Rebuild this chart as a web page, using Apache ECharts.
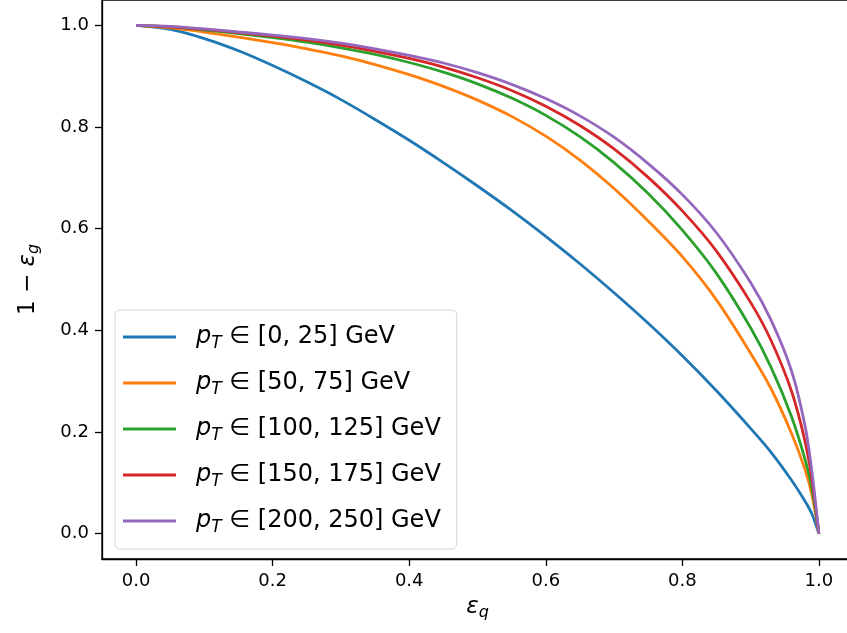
<!DOCTYPE html>
<html>
<head>
<meta charset="utf-8">
<script src="https://cdn.jsdelivr.net/npm/echarts@6/dist/echarts.min.js"></script>
<style>
  html, body { margin: 0; padding: 0; background: #fff; }
  #rocChart { width: 847px; height: 633px; }
</style>
</head>
<body>
<div id="rocChart"></div>
<script>
// quark efficiency (x) and 1 - gluon efficiency (y)
const effQ = [0, 0.05, 0.1, 0.15, 0.2, 0.25, 0.3, 0.35, 0.4, 0.45, 0.5, 0.55, 0.6,
  0.65, 0.7, 0.75, 0.8, 0.85, 0.9, 0.93, 0.96, 0.98, 0.99, 1.0];
const pt0_25 = [1.0, 0.992, 0.974, 0.95, 0.921, 0.889, 0.854, 0.815, 0.774, 0.73, 0.684, 0.636, 0.585,
  0.531, 0.474, 0.414, 0.35, 0.281, 0.207, 0.16, 0.105, 0.063, 0.038, 0.0];
const pt50_75 = [1.0, 0.995, 0.987, 0.977, 0.966, 0.954, 0.94, 0.923, 0.903, 0.88, 0.853, 0.821, 0.782,
  0.735, 0.679, 0.615, 0.545, 0.46, 0.355, 0.285, 0.197, 0.125, 0.075, 0.0];
const pt100_125 = [1.0, 0.997, 0.991, 0.984, 0.976, 0.967, 0.956, 0.943, 0.927, 0.908, 0.885, 0.857, 0.823,
  0.781, 0.73, 0.669, 0.597, 0.512, 0.405, 0.327, 0.23, 0.145, 0.088, 0.0];
const pt150_175 = [1.0, 0.997, 0.992, 0.986, 0.979, 0.971, 0.961, 0.949, 0.935, 0.918, 0.897, 0.872, 0.841,
  0.803, 0.757, 0.701, 0.635, 0.556, 0.455, 0.38, 0.28, 0.18, 0.105, 0.0];
const pt200_250 = [1.0, 0.998, 0.993, 0.987, 0.981, 0.974, 0.965, 0.954, 0.941, 0.926, 0.907, 0.884, 0.856,
  0.822, 0.78, 0.728, 0.667, 0.592, 0.494, 0.42, 0.32, 0.21, 0.12, 0.0];

const ptRanges = ["[0, 25]", "[50, 75]", "[100, 125]", "[150, 175]", "[200, 250]"];
const tickValues = [0, 0.2, 0.4, 0.6, 0.8, 1.0];

const lineColors = ["#1f77b4", "#ff7f0e", "#2ca02c", "#d62728", "#9467bd"];
const font = "DejaVu Sans";

let rocChart = echarts.init(document.getElementById("rocChart"));

let curves = [pt0_25, pt50_75, pt100_125, pt150_175, pt200_250];
let series = curves.map(function (vals, i) {
  return {
    name: "pT " + ptRanges[i],
    type: "line",
    symbol: "none",
    smooth: 0.3,
    data: effQ.map(function (x, j) { return [x, vals[j]]; }),
    lineStyle: { color: lineColors[i], width: 2.8 },
    itemStyle: { color: lineColors[i] }
  };
});

// shared axis bits (matplotlib look: outward ticks, no grid)
function axisCommon() {
  return {
    type: "value",
    min: -0.05,
    max: 1.05,
    splitLine: { show: false },
    axisLine: { show: true, onZero: false, lineStyle: { color: "#000", width: 1.3 } },
    axisTick: {
      show: true, inside: false, length: 7, customValues: tickValues,
      lineStyle: { color: "#000", width: 1.3 }
    },
    axisLabel: {
      customValues: tickValues, margin: 13, color: "#000",
      fontFamily: font, fontSize: 18,
      formatter: function (v) { return v.toFixed(1); }
    }
  };
}

let xAxis = axisCommon();
xAxis.name = "{e|ε}{s|q}";
xAxis.nameLocation = "middle";
xAxis.nameGap = 34;
xAxis.nameTextStyle = {
  rich: {
    e: { fontFamily: font, fontStyle: "italic", fontSize: 23, color: "#000", lineHeight: 28 },
    s: { fontFamily: font, fontStyle: "italic", fontSize: 16, color: "#000", lineHeight: 14, verticalAlign: "bottom" }
  }
};

let yAxis = axisCommon();
yAxis.name = "{n|1 − }{e|ε}{s|g}";
yAxis.nameLocation = "middle";
yAxis.nameRotate = 90;
yAxis.nameGap = 60;
yAxis.nameTextStyle = {
  rich: {
    n: { fontFamily: font, fontSize: 23, color: "#000", lineHeight: 28 },
    e: { fontFamily: font, fontStyle: "italic", fontSize: 23, color: "#000", lineHeight: 28 },
    s: { fontFamily: font, fontStyle: "italic", fontSize: 16, color: "#000", lineHeight: 14, verticalAlign: "bottom" }
  }
};

const option = {
  animation: false,
  backgroundColor: "#fff",
  grid: {
    left: 102, right: -6, top: 0, bottom: 74,
    outerBoundsMode: "none",
    containLabel: false,
    show: true, borderColor: "#000", borderWidth: 1.3, backgroundColor: "transparent"
  },
  xAxis: xAxis,
  yAxis: yAxis,
  legend: {
    orient: "vertical",
    left: 115,
    top: 310,
    padding: [15, 16, 13, 8],
    icon: "rect",
    itemWidth: 53,
    itemHeight: 3,
    itemGap: 19,
    backgroundColor: "rgba(255,255,255,0.8)",
    borderColor: "#d6d6d6",
    borderWidth: 1,
    borderRadius: 5,
    formatter: function (name) {
      return "{p|p}{s|T}{t| ∈ " + name.slice(3) + " GeV}";
    },
    textStyle: {
      padding: [0, 0, 0, 15],
      rich: {
        p: { fontFamily: font, fontStyle: "italic", fontSize: 24, color: "#000", lineHeight: 30 },
        s: { fontFamily: font, fontStyle: "italic", fontSize: 17, color: "#000", lineHeight: 16, verticalAlign: "bottom" },
        t: { fontFamily: font, fontSize: 24, color: "#000", lineHeight: 30 }
      }
    }
  },
  series: series
};

rocChart.setOption(option);

window.addEventListener("resize", function () {
  rocChart.resize();
});
</script>
</body>
</html>
